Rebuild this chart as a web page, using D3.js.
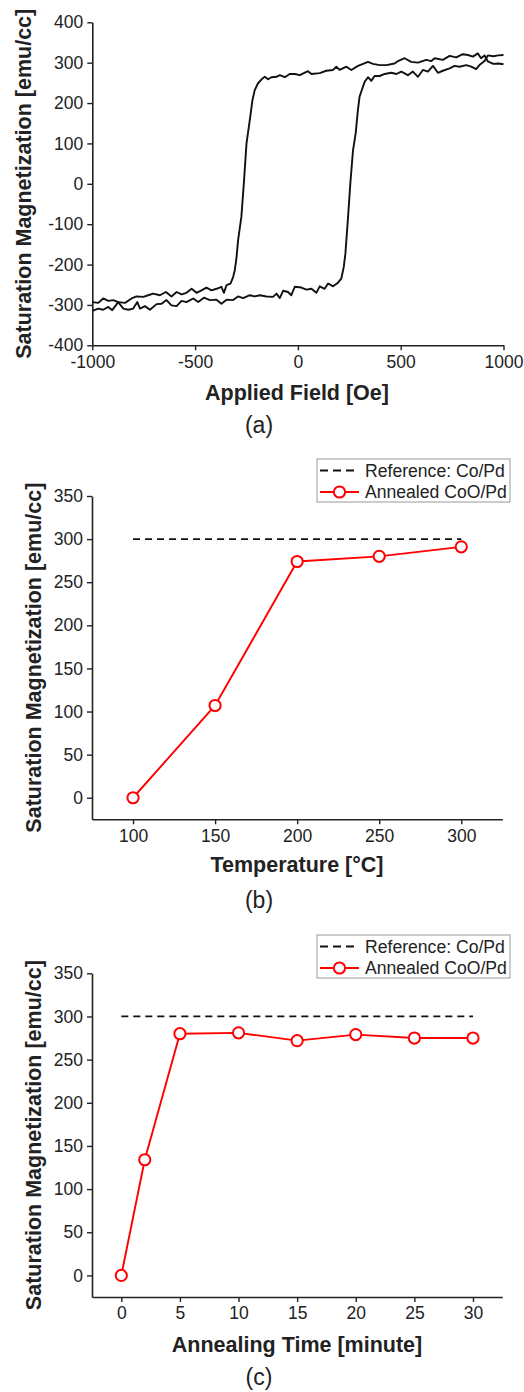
<!DOCTYPE html>
<html>
<head>
<meta charset="utf-8">
<script src="https://cdn.jsdelivr.net/npm/d3@7"></script>
<style>
  body { margin: 0; background: #fff; }
  svg text { font-family: "Liberation Sans", Arial, sans-serif; fill: #222; }
</style>
</head>
<body>
<script>
// Hysteresis loop (a): descending branch and ascending branch
const fieldDown = [1000, 975, 950, 924, 908, 891, 875, 851, 827, 802, 770, 738, 705, 665, 649, 624, 584, 551, 519, 487,
  470, 430, 398, 365, 341, 317, 292, 260, 236, 203, 187, 171, 138, 106, 66, 49, 9, -15, -40, -64,
  -88, -104, -129, -145, -161, -172, -194, -210, -221, -234, -250, -263, -275, -291, -299, -307, -315, -328, -347, -360,
  -372, -396, -420, -445, -469, -493, -517, -542, -566, -590, -615, -642, -671, -704, -728, -752, -785, -809, -841, -874,
  -898, -922, -947, -971, -1000];
const momentDown = [296, 298, 297, 303, 318, 311, 323, 315, 319, 321, 313, 317, 307, 311, 304, 307, 300, 302, 311, 304,
  298, 294, 294, 297, 302, 297, 292, 282, 290, 282, 290, 282, 280, 274, 272, 279, 269, 272, 272, 264,
  269, 265, 264, 259, 265, 261, 249, 232, 207, 158, 100, 1, -82, -140, -185, -214, -231, -247, -251, -270,
  -255, -260, -264, -257, -264, -270, -260, -270, -274, -268, -279, -268, -276, -272, -276, -280, -279, -284, -295, -293,
  -288, -290, -284, -295, -293];

const fieldUp = [-1000, -971, -947, -922, -903, -874, -849, -825, -801, -781, -768, -744, -720, -687, -663, -639, -615, -590, -566, -542,
  -509, -485, -457, -428, -396, -372, -347, -315, -291, -266, -234, -210, -185, -153, -121, -104, -88, -72, -48, -32,
  -15, 17, 41, 66, 90, 106, 130, 147, 171, 195, 211, 223, 231, 244, 255, 268, 281, 292, 300, 308,
  325, 341, 357, 373, 398, 422, 454, 479, 503, 535, 559, 584, 608, 632, 657, 681, 705, 738, 762, 786,
  819, 843, 867, 883, 908, 924, 950, 975, 1000];
const momentUp = [-315, -309, -312, -305, -313, -293, -309, -312, -309, -293, -309, -303, -312, -298, -297, -288, -301, -303, -290, -293,
  -284, -293, -282, -288, -287, -297, -287, -288, -279, -283, -276, -279, -276, -279, -280, -272, -283, -265, -268, -276,
  -255, -257, -262, -260, -270, -254, -260, -247, -254, -245, -235, -206, -173, -82, 1, 83, 125, 183, 216, 228,
  253, 264, 255, 267, 267, 272, 275, 272, 278, 269, 278, 265, 282, 278, 292, 275, 280, 286, 292, 290,
  294, 290, 284, 294, 304, 318, 316, 318, 319];

// (b) annealing temperature
const temps = [100, 150, 200, 250, 300];
const msTemp = [0, 107, 274, 280, 291];

// (c) annealing time
const times = [0, 2, 5, 10, 15, 20, 25, 30];
const msTime = [0, 134, 280, 281, 272, 279, 275, 275];

const refMs = 300;
const legendLabels = ["Reference: Co/Pd", "Annealed CoO/Pd"];

const svg = d3.select("body").append("svg")
  .attr("width", 524)
  .attr("height", 1392);

const axisColor = "#222";
const red = "#ff0000";
const plainNum = d => String(d);  // hyphen minus, no thousands comma

function styleAxis(g) {
  g.select(".domain").attr("stroke", axisColor).attr("stroke-width", 1.6);
  g.selectAll(".tick line").attr("stroke", axisColor).attr("stroke-width", 1.4);
  g.selectAll(".tick text").style("font-size", "17.5px").attr("fill", "#222");
}

function drawAxes(x, y, xTicks, yTicks, xTitle, yTitle, titleY, yTitleX, panelLabel, labelY) {
  const xAxis = svg.append("g")
    .attr("transform", `translate(0,${y.range()[0]})`)
    .call(d3.axisBottom(x).tickValues(xTicks).tickFormat(plainNum)
      .tickSize(5).tickSizeOuter(0).tickPadding(5));
  styleAxis(xAxis);

  const yAxis = svg.append("g")
    .attr("transform", `translate(${x.range()[0]},0)`)
    .call(d3.axisLeft(y).tickValues(yTicks).tickFormat(plainNum)
      .tickSize(5).tickSizeOuter(0).tickPadding(4));
  styleAxis(yAxis);

  svg.append("text")
    .attr("x", 297).attr("y", titleY)
    .attr("text-anchor", "middle")
    .style("font-size", "21.5px").style("font-weight", "bold")
    .text(xTitle);

  const yc = (y.range()[0] + y.range()[1]) / 2;
  svg.append("text")
    .attr("transform", `translate(${yTitleX},${yc}) rotate(-90)`)
    .attr("text-anchor", "middle")
    .style("font-size", "21.5px").style("font-weight", "bold")
    .text(yTitle);

  svg.append("text")
    .attr("x", 259).attr("y", labelY)
    .attr("text-anchor", "middle")
    .style("font-size", "23px")
    .text(panelLabel);
}

// ---------- Panel (a) ----------
const xa = d3.scaleLinear().domain([-1000, 1000]).range([92.3, 503.5]);
const ya = d3.scaleLinear().domain([-400, 400]).range([345.3, 22.3]);

drawAxes(xa, ya, d3.range(-1000, 1001, 500), d3.range(-400, 401, 100),
  "Applied Field [Oe]", "Saturation Magnetization [emu/cc]", 400, 31, "(a)", 433);

const loopLine = d3.line().x(d => xa(d[0])).y(d => ya(d[1]));
[d3.zip(fieldDown, momentDown), d3.zip(fieldUp, momentUp)].forEach(branch => {
  svg.append("path")
    .datum(branch)
    .attr("fill", "none")
    .attr("stroke", "#111")
    .attr("stroke-width", 1.9)
    .attr("stroke-linejoin", "round")
    .attr("d", loopLine);
});

// ---------- Panels (b) and (c) ----------
function drawSeriesPanel(xs, ys, x, y, legendTop) {
  // reference dashed line
  svg.append("line")
    .attr("x1", x(xs[0])).attr("x2", x(xs[xs.length - 1]))
    .attr("y1", y(refMs)).attr("y2", y(refMs))
    .attr("stroke", "#111").attr("stroke-width", 1.8)
    .attr("stroke-dasharray", "7,5");

  const line = d3.line().x((d, i) => x(xs[i])).y(d => y(d));
  svg.append("path")
    .datum(ys)
    .attr("fill", "none")
    .attr("stroke", red)
    .attr("stroke-width", 1.9)
    .attr("d", line);

  svg.selectAll(null)
    .data(ys)
    .enter().append("circle")
    .attr("cx", (d, i) => x(xs[i]))
    .attr("cy", d => y(d))
    .attr("r", 5.6)
    .attr("fill", "#fff")
    .attr("stroke", red)
    .attr("stroke-width", 2);

  // legend
  const lg = svg.append("g").attr("transform", `translate(317,${legendTop})`);
  lg.append("rect")
    .attr("width", 193).attr("height", 43)
    .attr("fill", "#fff").attr("stroke", "#999").attr("stroke-width", 1);
  lg.append("line")
    .attr("x1", 3).attr("x2", 42).attr("y1", 11.5).attr("y2", 11.5)
    .attr("stroke", "#111").attr("stroke-width", 1.8)
    .attr("stroke-dasharray", "8,5");
  lg.append("line")
    .attr("x1", 3).attr("x2", 42).attr("y1", 33).attr("y2", 33)
    .attr("stroke", red).attr("stroke-width", 1.9);
  lg.append("circle")
    .attr("cx", 22.5).attr("cy", 33).attr("r", 5.6)
    .attr("fill", "#fff").attr("stroke", red).attr("stroke-width", 2);
  lg.selectAll("text.lab")
    .data(legendLabels)
    .enter().append("text")
    .attr("class", "lab")
    .attr("x", 48)
    .attr("y", (d, i) => 17.5 + i * 21.5)
    .style("font-size", "17.6px")
    .text(d => d);
}

const xb = d3.scaleLinear().domain([75, 325]).range([92, 502.3]);
const yb = d3.scaleLinear().domain([-25, 350]).range([819.3, 496]);
drawAxes(xb, yb, temps, d3.range(0, 351, 50),
  "Temperature [°C]", "Saturation Magnetization [emu/cc]", 872, 41, "(b)", 908);
drawSeriesPanel(temps, msTemp, xb, yb, 459);

const xc = d3.scaleLinear().domain([-2.5, 32.5]).range([92, 502.3]);
const yc = d3.scaleLinear().domain([-25, 350]).range([1297, 973.3]);
drawAxes(xc, yc, d3.range(0, 31, 5), d3.range(0, 351, 50),
  "Annealing Time [minute]", "Saturation Magnetization [emu/cc]", 1352, 41, "(c)", 1385);
drawSeriesPanel(times, msTime, xc, yc, 935);
</script>
</body>
</html>
